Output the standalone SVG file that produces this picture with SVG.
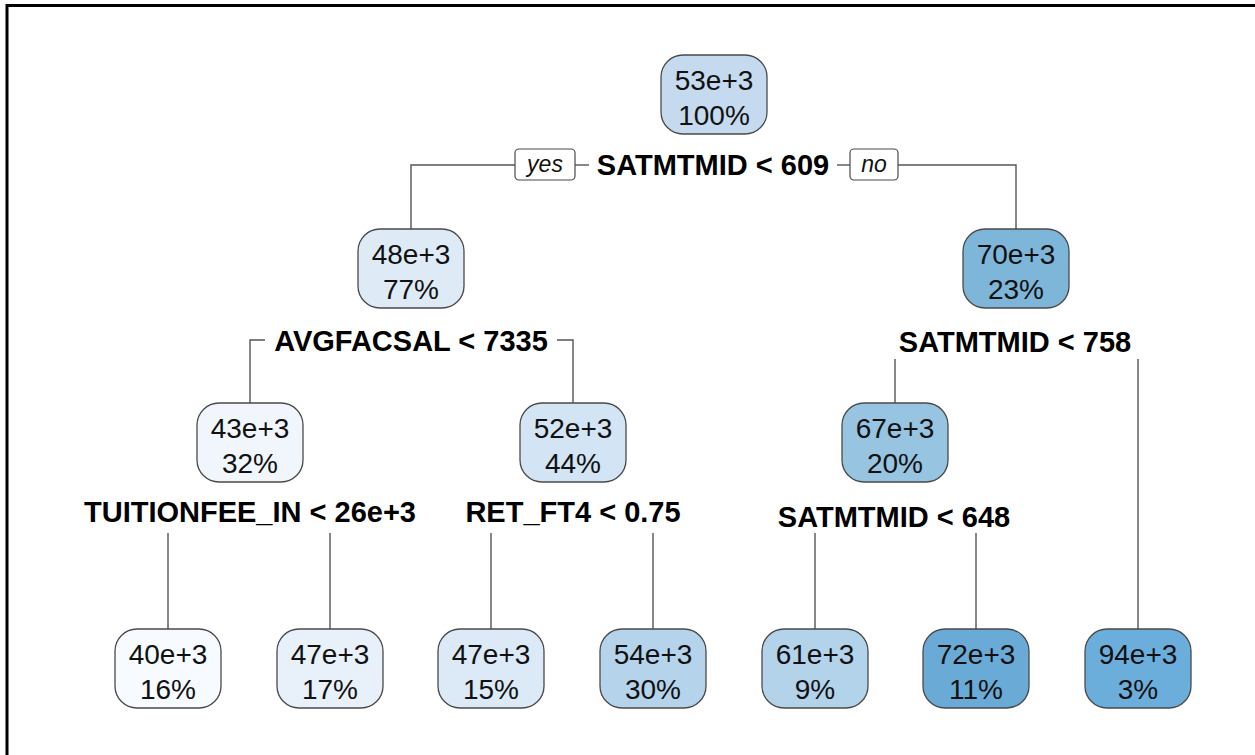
<svg xmlns="http://www.w3.org/2000/svg" width="1255" height="755" viewBox="0 0 1255 755">
<style>
.node rect{stroke:#4a4a4a;stroke-width:1.3}
.node text{font-family:"Liberation Sans",Arial,sans-serif;font-size:28px;fill:#111;text-anchor:middle}
.split{font-family:"Liberation Sans",Arial,sans-serif;font-size:29px;font-weight:bold;fill:#000;text-anchor:middle}
.lbl rect{fill:#fff;stroke:#4a4a4a;stroke-width:1.2}
.lbl text{font-family:"Liberation Sans",Arial,sans-serif;font-size:23px;font-style:italic;fill:#111;text-anchor:middle}
#connectors path{fill:none;stroke:#555;stroke-width:1.4}
</style>
<rect width="1255" height="755" fill="#fff"/>
<path d="M7,755 V5.5 H1255" fill="none" stroke="#000" stroke-width="3"/>
<g id="connectors">
<path d="M515,165 H411 V229"/>
<path d="M575,165 H589"/>
<path d="M837,165 H850"/>
<path d="M898,165 H1016 V229"/>
<path d="M265,340 H250 V403"/>
<path d="M557,340 H573 V403"/>
<path d="M895,359 V403"/>
<path d="M1138,359 V629"/>
<path d="M168,533 V629"/>
<path d="M330,533 V629"/>
<path d="M491,533 V629"/>
<path d="M653,533 V629"/>
<path d="M815,533 V629"/>
<path d="M976,533 V629"/>
</g>
<g id="lbl-yes" class="lbl"><rect x="515" y="149" width="60" height="31" rx="4"/><text x="545" y="172">yes</text></g>
<g id="lbl-no" class="lbl"><rect x="850" y="149" width="48" height="31" rx="4"/><text x="874" y="172">no</text></g>
<g id="n1" class="node"><rect x="661" y="55" width="106" height="79" rx="22" fill="#c5daef"/><text x="714" y="90">53e+3</text><text x="714" y="125">100%</text></g>
<text class="split" x="713" y="175">SATMTMID &lt; 609</text>
<g id="n2" class="node"><rect x="358" y="229" width="106" height="79" rx="22" fill="#deebf7"/><text x="411" y="264">48e+3</text><text x="411" y="299">77%</text></g>
<g id="n3" class="node"><rect x="963" y="229" width="106" height="79" rx="22" fill="#7eb6da"/><text x="1016" y="264">70e+3</text><text x="1016" y="299">23%</text></g>
<text class="split" x="411" y="351">AVGFACSAL &lt; 7335</text>
<text class="split" x="1015" y="352">SATMTMID &lt; 758</text>
<g id="n4" class="node"><rect x="197" y="403" width="106" height="79" rx="22" fill="#f0f6fc"/><text x="250" y="438">43e+3</text><text x="250" y="473">32%</text></g>
<g id="n5" class="node"><rect x="520" y="403" width="106" height="79" rx="22" fill="#d3e4f4"/><text x="573" y="438">52e+3</text><text x="573" y="473">44%</text></g>
<g id="n7" class="node"><rect x="842" y="403" width="106" height="79" rx="22" fill="#96c4e1"/><text x="895" y="438">67e+3</text><text x="895" y="473">20%</text></g>
<text class="split" x="250" y="522">TUITIONFEE_IN &lt; 26e+3</text>
<text class="split" x="573" y="522">RET_FT4 &lt; 0.75</text>
<text class="split" x="894" y="527">SATMTMID &lt; 648</text>
<g id="leaf1" class="node"><rect x="115" y="629" width="106" height="79" rx="22" fill="#f7fbff"/><text x="168" y="664">40e+3</text><text x="168" y="699">16%</text></g>
<g id="leaf2" class="node"><rect x="277" y="629" width="106" height="79" rx="22" fill="#e8f1fa"/><text x="330" y="664">47e+3</text><text x="330" y="699">17%</text></g>
<g id="leaf3" class="node"><rect x="438" y="629" width="106" height="79" rx="22" fill="#dce9f6"/><text x="491" y="664">47e+3</text><text x="491" y="699">15%</text></g>
<g id="leaf4" class="node"><rect x="600" y="629" width="106" height="79" rx="22" fill="#b5d4ec"/><text x="653" y="664">54e+3</text><text x="653" y="699">30%</text></g>
<g id="leaf5" class="node"><rect x="762" y="629" width="106" height="79" rx="22" fill="#b2d3ea"/><text x="815" y="664">61e+3</text><text x="815" y="699">9%</text></g>
<g id="leaf6" class="node"><rect x="923" y="629" width="106" height="79" rx="22" fill="#69abd6"/><text x="976" y="664">72e+3</text><text x="976" y="699">11%</text></g>
<g id="leaf7" class="node"><rect x="1085" y="629" width="106" height="79" rx="22" fill="#6caedb"/><text x="1138" y="664">94e+3</text><text x="1138" y="699">3%</text></g>
</svg>
